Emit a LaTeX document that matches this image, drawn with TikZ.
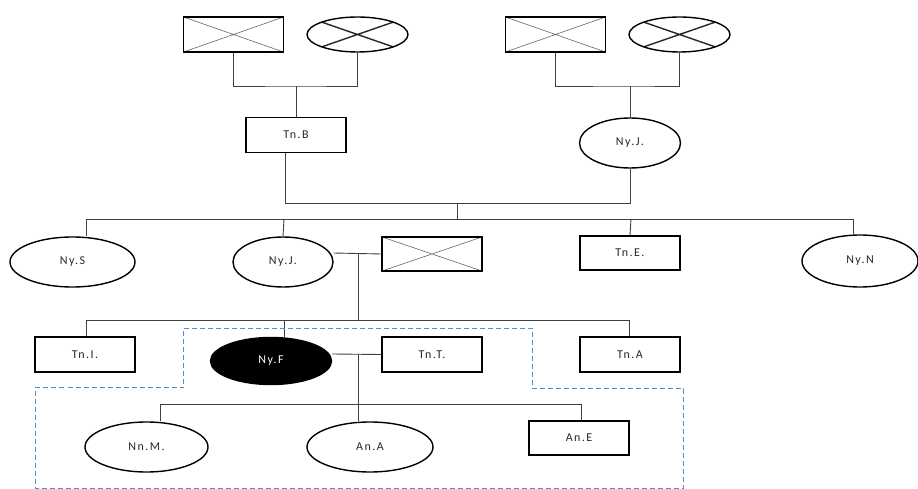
\documentclass[tikz,border=0pt]{standalone}
\usepackage{fontspec}
\newfontfamily\lbl[LetterSpace=12]{Carlito}
\usetikzlibrary{shapes.geometric}
\definecolor{dashblue}{HTML}{4F8FCF}
\tikzset{
  every node/.style={font=\lbl\fontsize{12}{14}\selectfont, text=black!85, inner sep=0pt},
  male/.style={draw, line width=1.6pt, rectangle, minimum width=100pt, minimum height=35pt},
  female/.style={draw, line width=1.4pt, ellipse, minimum width=101pt, minimum height=50pt},
  deadm/.style={male, path picture={\draw[line width=0.6pt, black!60] (path picture bounding box.north west) -- (path picture bounding box.south east) (path picture bounding box.south west) -- (path picture bounding box.north east);}},
  deadf/.style={female, minimum height=35pt, path picture={\draw[line width=1.4pt, black!85] (path picture bounding box.north west) -- (path picture bounding box.south east) (path picture bounding box.south west) -- (path picture bounding box.north east);}},
  link/.style={draw, line width=0.9pt, black!75},
  border/.style={draw=dashblue, line width=1pt, dash pattern=on 5pt off 3pt}
}
\begin{document}
\begin{tikzpicture}[x=1pt, y=-1pt]
\useasboundingbox (0,0) rectangle (918,489);
% grandparents
\node[deadm] (gfL) at (233.5,34.5) {};
\node[deadf] (gmL) at (357.5,34.5) {};
\node[deadm] (gfR) at (555.5,34.5) {};
\node[deadf] (gmR) at (679.5,34.5) {};
% parents
\node[male] (tnB) at (296,135) {Tn.B};
\node[female] (nyJa) at (630,143) {Ny.J.};
% siblings
\node[female, minimum width=125pt] (nyS) at (72.5,262) {Ny.S};
\node[female, minimum width=100pt] (nyJb) at (283,262) {Ny.J.};
\node[deadm, minimum height=34pt] (sp1) at (432,254) {};
\node[male, minimum height=34pt] (tnE) at (630,253) {Tn.E.};
\node[female, minimum width=116pt, minimum height=52pt] (nyN) at (860,261) {Ny.N};
% children
\node[male] (tnI) at (85,354.5) {Tn.I.};
\node[female, fill=black, text=white, minimum width=121pt, minimum height=47pt] (nyF) at (271,361) {Ny.F};
\node[male] (tnT) at (432,354.5) {Tn.T.};
\node[male] (tnA) at (630,354.5) {Tn.A};
% grandchildren
\node[female, minimum width=123pt] (nnM) at (146.5,447) {Nn.M.};
\node[female, minimum width=126pt] (anA) at (370,447) {An.A};
\node[male, minimum height=34pt] (anE) at (579,438) {An.E};
% helper coordinates
\coordinate (mL) at (296,86);
\coordinate (pL) at (285,203);
\coordinate (pR) at (630,203);
\coordinate (pM) at (457,203);
\coordinate (sL) at (86,219);
\coordinate (sJ) at (284,219);
\coordinate (sE) at (631,219);
\coordinate (sN) at (853,219);
\coordinate (m2) at (358,253);
\coordinate (cL) at (86,320);
\coordinate (cF) at (284,320);
\coordinate (cA) at (629,320);
\coordinate (m3) at (358,354);
\coordinate (gL) at (160,404);
\coordinate (gE) at (581,404);
% top marriages
\draw[link] (gfL.south) |- (mL) -| (gmL.south);
\draw[link] (mL) -- (tnB.north);
\draw[link] (gfR.south) |- (nyJa.north |- mL) -| (gmR.south);
\draw[link] (nyJa.north |- mL) -- (nyJa.north);
% parents marriage
\draw[link] (tnB.south -| pL) -- (pL) -- (pR) -- (nyJa.south);
\draw[link] (pM) -- (pM |- sL);
% siblings line
\draw[link] (sL) -- (sN);
\draw[link] (sL) -- (sL |- nyS.north);
\draw[link] (sJ) -- (nyJb.north);
\draw[link] (sE) -- (tnE.north);
\draw[link] (sN) -- (sN |- nyN.north);
% second marriage
\draw[link] (sp1.west) -- (m2 -| nyJb.east);
\draw[link] (m2) -- (m2 |- cL);
% children line
\draw[link] (cL) -- (cA);
\draw[link] (cL) -- (tnI.north -| cL);
\draw[link] (cF) -- (cF |- nyF.north);
\draw[link] (cA) -- (tnA.north -| cA);
% third marriage
\draw[link] (tnT.west) -- (m3 -| nyF.east);
\draw[link] (m3) -- (m3 |- anA.north);
% grandchildren line
\draw[link] (gL) -- (gE);
\draw[link] (gL) -- (gL |- nnM.north);
\draw[link] (gE) -- (gE |- anE.north);
% household boundary
\draw[border] (183.5,328.5) -- (532.5,328.5) -- (532.5,388.5) -- (683.5,388.5) -- (683.5,488) -- (35.5,488) -- (35.5,387.5) -- (183.5,387.5) -- cycle;
\end{tikzpicture}
\end{document}
